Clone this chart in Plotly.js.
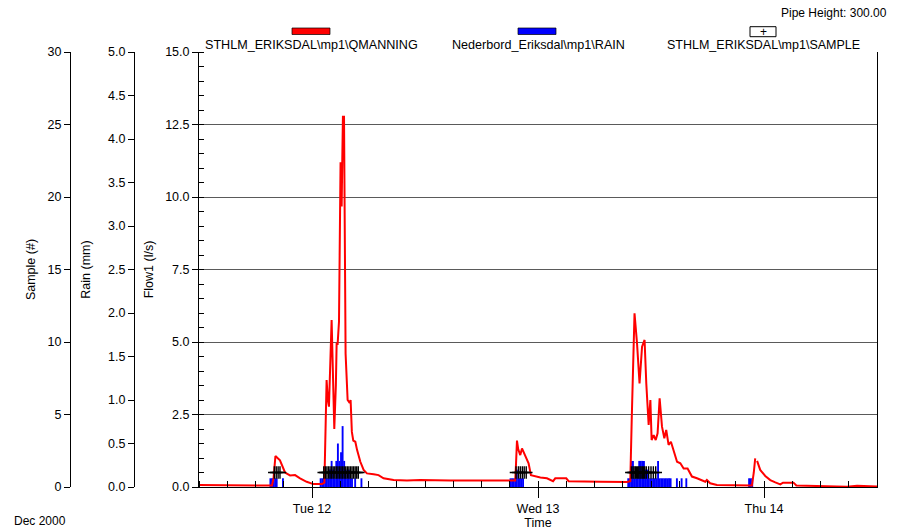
<!DOCTYPE html>
<html>
<head>
<meta charset="utf-8">
<script src="https://cdn.plot.ly/plotly-3.0.1.min.js"></script>
<style>html,body{margin:0;padding:0;background:#fff;}#chart{width:897px;height:531px;}</style>
</head>
<body>
<div id="chart"></div>
<script>
// ---- Flow (QMANNING), l/s ----
const flowTime = [
'2000-12-11 12:00','2000-12-11 15:15','2000-12-11 18:30','2000-12-11 19:45','2000-12-11 19:55','2000-12-11 20:07',
'2000-12-11 20:36','2000-12-11 21:08','2000-12-11 21:40','2000-12-11 22:12','2000-12-11 22:44','2000-12-11 23:26',
'2000-12-12 00:08','2000-12-12 01:04','2000-12-12 01:19','2000-12-12 01:23','2000-12-12 01:33','2000-12-12 01:41',
'2000-12-12 01:48','2000-12-12 02:05','2000-12-12 02:12','2000-12-12 02:22','2000-12-12 02:32','2000-12-12 02:37',
'2000-12-12 02:43','2000-12-12 02:52','2000-12-12 03:02','2000-12-12 03:09','2000-12-12 03:13','2000-12-12 03:17',
'2000-12-12 03:24','2000-12-12 03:28','2000-12-12 03:34','2000-12-12 03:47','2000-12-12 04:00','2000-12-12 04:06',
'2000-12-12 04:14','2000-12-12 04:23','2000-12-12 04:36','2000-12-12 04:47','2000-12-12 05:08','2000-12-12 05:29',
'2000-12-12 05:50','2000-12-12 06:33','2000-12-12 07:04','2000-12-12 07:36','2000-12-12 08:40','2000-12-12 10:05',
'2000-12-12 11:30','2000-12-12 14:41','2000-12-12 17:52','2000-12-12 20:00','2000-12-12 21:35','2000-12-12 21:40',
'2000-12-12 21:46','2000-12-12 21:54','2000-12-12 22:07','2000-12-12 22:18','2000-12-12 22:39','2000-12-12 23:00',
'2000-12-12 23:15','2000-12-12 23:32','2000-12-13 00:15','2000-12-13 00:57','2000-12-13 01:36','2000-12-13 01:50',
'2000-12-13 03:00','2000-12-13 03:15','2000-12-13 04:30','2000-12-13 06:37','2000-12-13 09:27','2000-12-13 09:48',
'2000-12-13 09:58','2000-12-13 10:15','2000-12-13 10:31','2000-12-13 10:47','2000-12-13 11:03','2000-12-13 11:19',
'2000-12-13 11:30','2000-12-13 11:45','2000-12-13 11:56','2000-12-13 12:04','2000-12-13 12:17','2000-12-13 12:30',
'2000-12-13 12:42','2000-12-13 12:55','2000-12-13 13:10','2000-12-13 13:25','2000-12-13 13:37','2000-12-13 13:52',
'2000-12-13 14:07','2000-12-13 14:24','2000-12-13 14:46','2000-12-13 15:07','2000-12-13 15:28','2000-12-13 15:53',
'2000-12-13 16:21','2000-12-13 16:53','2000-12-13 17:25','2000-12-13 17:46','2000-12-13 17:56','2000-12-13 18:17',
'2000-12-13 19:00','2000-12-13 20:44','2000-12-13 22:43','2000-12-13 22:55','2000-12-13 23:04','2000-12-13 23:10',
'2000-12-13 23:16','2000-12-13 23:36','2000-12-14 00:08','2000-12-14 00:40','2000-12-14 01:12','2000-12-14 01:44',
'2000-12-14 02:01','2000-12-14 03:08','2000-12-14 03:26','2000-12-14 05:59','2000-12-14 08:49','2000-12-14 09:53',
'2000-12-14 11:39','2000-12-14 12:00'
];
const flowValue = [
0.07,0.06,0.04,0.05,0.30,1.07,
0.92,0.50,0.40,0.41,0.30,0.18,
0.10,0.10,0.15,1.00,3.69,3.00,
2.77,5.76,4.00,2.00,3.50,4.97,
4.90,5.70,11.20,9.67,11.30,12.77,
12.77,9.70,4.60,3.00,2.90,3.00,
1.90,1.60,1.56,1.28,0.87,0.59,
0.47,0.44,0.41,0.30,0.24,0.22,
0.24,0.22,0.22,0.23,0.22,0.80,
1.60,1.30,1.10,1.33,1.05,0.82,
0.41,0.38,0.33,0.30,0.20,0.30,
0.30,0.20,0.20,0.18,0.17,0.20,
2.50,5.99,4.95,3.57,4.84,5.07,
3.57,2.14,3.00,1.62,1.79,1.62,
1.85,3.06,2.08,1.68,1.97,1.45,
1.56,1.28,0.87,0.82,0.64,0.64,
0.36,0.30,0.24,0.18,0.24,0.13,
0.07,0.05,0.05,0.50,0.99,null,
0.90,0.59,0.38,0.24,0.16,0.09,
0.15,0.15,0.05,0.04,0.01,0.04,
0.04,0.02
];

// ---- Rain, mm per 10 minutes (bin centres) ----
const rainTime = [
'2000-12-11 19:35','2000-12-11 19:45','2000-12-11 19:55','2000-12-11 20:05','2000-12-11 20:15','2000-12-11 20:55',
'2000-12-12 00:55','2000-12-12 01:05','2000-12-12 01:15','2000-12-12 01:25','2000-12-12 01:35','2000-12-12 01:45',
'2000-12-12 01:55','2000-12-12 02:05','2000-12-12 02:15','2000-12-12 02:25','2000-12-12 02:35','2000-12-12 02:45',
'2000-12-12 02:55','2000-12-12 03:05','2000-12-12 03:15','2000-12-12 03:25','2000-12-12 03:35','2000-12-12 03:45',
'2000-12-12 03:55','2000-12-12 04:05','2000-12-12 04:15','2000-12-12 04:35','2000-12-12 05:15',
'2000-12-12 21:05','2000-12-12 21:15','2000-12-12 21:25','2000-12-12 21:35','2000-12-12 21:45','2000-12-12 21:55',
'2000-12-12 22:05','2000-12-12 22:15','2000-12-12 22:25',
'2000-12-13 09:35','2000-12-13 09:45','2000-12-13 09:55','2000-12-13 10:05','2000-12-13 10:15','2000-12-13 10:25',
'2000-12-13 10:35','2000-12-13 10:45','2000-12-13 10:55','2000-12-13 11:05','2000-12-13 11:15','2000-12-13 11:25',
'2000-12-13 11:35','2000-12-13 11:45','2000-12-13 11:55','2000-12-13 12:05','2000-12-13 12:15','2000-12-13 12:25',
'2000-12-13 12:35','2000-12-13 12:45','2000-12-13 12:55','2000-12-13 13:05','2000-12-13 13:15','2000-12-13 13:25',
'2000-12-13 13:35','2000-12-13 13:45','2000-12-13 13:55','2000-12-13 14:05','2000-12-13 14:45','2000-12-13 15:15',
'2000-12-13 15:45',
'2000-12-13 22:25','2000-12-13 22:35','2000-12-13 22:45'
];
const rainValue = [
0.1,0.1,0.1,0.1,0.1,0.1,
0.1,0.1,0.1,0.1,0.1,0.1,
0.2,0.3,0.2,0.1,0.3,0.5,
0.3,0.4,0.7,0.3,0.2,0.1,
0.2,0.1,0.1,0.1,0.1,
0.1,0.1,0.1,0.1,0.2,0.1,
0.1,0.1,0.1,
0.1,0.1,0.3,0.3,0.1,0.1,
0.2,0.3,0.3,0.3,0.3,0.2,
0.2,0.1,0.1,0.1,0.1,0.1,
0.1,0.3,0.1,0.1,0.1,0.1,
0.1,0.1,0.1,0.1,0.1,0.1,
0.1,
0.1,0.1,0.1
];

// ---- Samples (#) ----
const sampleTime = [
'2000-12-11 20:00','2000-12-11 20:12','2000-12-11 20:24','2000-12-11 20:36',
'2000-12-12 01:15','2000-12-12 01:25','2000-12-12 01:35','2000-12-12 01:45','2000-12-12 01:55','2000-12-12 02:05',
'2000-12-12 02:15','2000-12-12 02:25','2000-12-12 02:35','2000-12-12 02:45','2000-12-12 02:55','2000-12-12 03:05',
'2000-12-12 03:15','2000-12-12 03:25','2000-12-12 03:35','2000-12-12 03:45','2000-12-12 03:55','2000-12-12 04:05',
'2000-12-12 04:15','2000-12-12 04:25','2000-12-12 04:35','2000-12-12 04:45','2000-12-12 04:55',
'2000-12-12 21:40','2000-12-12 21:55','2000-12-12 22:07','2000-12-12 22:20','2000-12-12 22:32','2000-12-12 22:45',
'2000-12-13 09:55','2000-12-13 10:05','2000-12-13 10:12','2000-12-13 10:20','2000-12-13 10:27','2000-12-13 10:35',
'2000-12-13 10:42','2000-12-13 10:50','2000-12-13 10:57','2000-12-13 11:05','2000-12-13 11:12','2000-12-13 11:20',
'2000-12-13 11:30','2000-12-13 11:45','2000-12-13 12:00','2000-12-13 12:15','2000-12-13 12:30'
];
const sampleValue = sampleTime.map(() => 1);

const FAM = 'Liberation Sans, Arial, sans-serif';
const tickFont = {family: FAM, size: 12.5, color: '#000'};
const titleFont = {family: FAM, size: 12.5, color: '#000'};

const traces = [
  {type: 'bar', x: rainTime, y: rainValue, xaxis: 'x', yaxis: 'y',
   width: 720000, marker: {color: '#0000ff', line: {width: 0}}, showlegend: false},
  {type: 'scatter', mode: 'lines', x: flowTime, y: flowValue, xaxis: 'x', yaxis: 'y2',
   line: {color: '#ff0000', width: 2}, connectgaps: false, showlegend: false},
  {type: 'scatter', mode: 'markers', x: sampleTime, y: sampleValue, xaxis: 'x', yaxis: 'y3',
   marker: {symbol: 'cross-thin', size: 9, color: '#000', line: {color: '#000', width: 1.4}}, showlegend: false}
];

const xd = [199/897, 877/897];
const yd = [(531-487)/531, (531-52)/531];

const layout = {
  width: 897, height: 531,
  margin: {l: 0, r: 0, t: 0, b: 0},
  paper_bgcolor: '#fff', plot_bgcolor: 'rgba(0,0,0,0)',
  showlegend: false,
  font: tickFont,
  barmode: 'overlay',
  xaxis: {
    type: 'date', domain: xd, anchor: 'y2',
    range: ['2000-12-11 12:00', '2000-12-14 12:00'],
    tick0: '2000-12-11', dtick: 86400000, tickformat: '%a %d',
    ticks: 'outside', ticklen: 10, tickwidth: 1, tickcolor: '#000',
    minor: {dtick: 3*3600000, ticks: 'inside', ticklen: 6, tickwidth: 1, tickcolor: '#000', showgrid: false},
    showline: true, linecolor: '#000', linewidth: 1,
    showgrid: false, zeroline: false,
    tickfont: tickFont,
    title: {text: 'Time', font: titleFont, standoff: 2}
  },
  yaxis: {
    domain: yd, anchor: 'free', position: 134/897, side: 'left',
    range: [0, 5], dtick: 0.5, tickformat: '.1f',
    ticks: 'outside', ticklen: 6, tickcolor: '#000',
    showline: true, linecolor: '#000', showgrid: false, zeroline: false,
    tickfont: tickFont,
    title: {text: 'Rain (mm)', font: titleFont, standoff: 13}
  },
  yaxis2: {
    domain: yd, anchor: 'x', overlaying: 'y', side: 'left',
    range: [0, 15], dtick: 2.5, tickformat: '.1f',
    ticks: 'outside', ticklen: 6, tickcolor: '#000',
    minor: {dtick: 0.5, ticks: 'inside', ticklen: 5, tickcolor: '#000', showgrid: false},
    showline: true, linecolor: '#000', mirror: true,
    showgrid: true, gridcolor: '#5a5a5a', gridwidth: 1, zeroline: false,
    tickfont: tickFont,
    title: {text: 'Flow1 (l/s)', font: titleFont, standoff: 8}
  },
  yaxis3: {
    domain: yd, anchor: 'free', overlaying: 'y', position: 70/897, side: 'left',
    range: [0, 30], dtick: 5,
    ticks: 'outside', ticklen: 6, tickcolor: '#000',
    showline: true, linecolor: '#000', showgrid: false, zeroline: false,
    tickfont: tickFont,
    title: {text: 'Sample (#)', font: titleFont, standoff: 8}
  },
  shapes: [
    {type: 'rect', xref: 'paper', yref: 'paper', x0: 292/897, x1: 330/897, y0: 1-34.5/531, y1: 1-28/531,
     fillcolor: '#ff0000', line: {color: '#000', width: 0.7}},
    {type: 'rect', xref: 'paper', yref: 'paper', x0: 518/897, x1: 556/897, y0: 1-34.5/531, y1: 1-28/531,
     fillcolor: '#0000ff', line: {color: '#000', width: 0.7}},
    {type: 'rect', xref: 'paper', yref: 'paper', x0: 750/897, x1: 776/897, y0: 1-36.7/531, y1: 1-26.7/531,
     fillcolor: '#fff', line: {color: '#000', width: 1}}
  ],
  annotations: [
    {xref: 'paper', yref: 'paper', x: 203/897, y: 1-45/531, xanchor: 'left', yanchor: 'middle', showarrow: false,
     text: 'STHLM_ERIKSDAL\\mp1\\QMANNING', font: {family: FAM, size: 12.6, color: '#000'}},
    {xref: 'paper', yref: 'paper', x: 450/897, y: 1-45/531, xanchor: 'left', yanchor: 'middle', showarrow: false,
     text: 'Nederbord_Eriksdal\\mp1\\RAIN', font: {family: FAM, size: 12.6, color: '#000'}},
    {xref: 'paper', yref: 'paper', x: 665/897, y: 1-45/531, xanchor: 'left', yanchor: 'middle', showarrow: false,
     text: 'STHLM_ERIKSDAL\\mp1\\SAMPLE', font: {family: FAM, size: 12.5, color: '#000'}},
    {xref: 'paper', yref: 'paper', x: 763/897, y: 1-31.7/531, xanchor: 'center', yanchor: 'middle', showarrow: false,
     text: '+', font: {family: FAM, size: 12, color: '#000'}},
    {xref: 'paper', yref: 'paper', x: 889/897, y: 1-13/531, xanchor: 'right', yanchor: 'middle', showarrow: false,
     text: 'Pipe Height: 300.00', font: {family: FAM, size: 12, color: '#000'}},
    {xref: 'paper', yref: 'paper', x: 12/897, y: 1-521/531, xanchor: 'left', yanchor: 'middle', showarrow: false,
     text: 'Dec 2000', font: {family: FAM, size: 12, color: '#000'}}
  ]
};

Plotly.newPlot('chart', traces, layout, {staticPlot: true, displayModeBar: false});
</script>
</body>
</html>
